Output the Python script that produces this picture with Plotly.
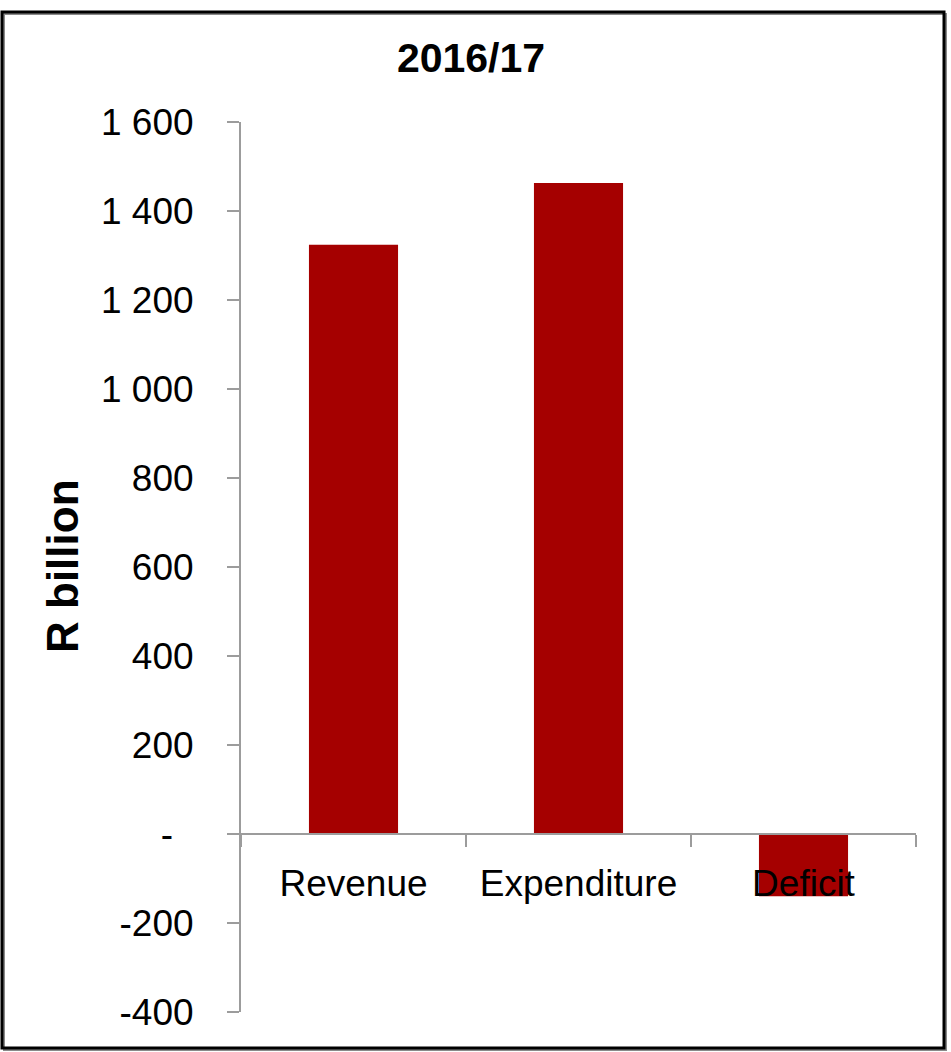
import plotly.graph_objects as go

# Budget aggregates, R billion
categories = ["Revenue", "Expenditure", "Deficit"]
values = [1324, 1463, -140]

tick_vals = [1600, 1400, 1200, 1000, 800, 600, 400, 200, 0, -200, -400]
tick_text = ["1 600", "1 400", "1 200", "1 000", "800", "600", "400", "200",
             "-\u00a0\u00a0", "-200", "-400"]

W, H = 951, 1052
L, R, T, B = 241, 35, 122, 40
PW, PH = W - L - R, H - T - B

def px_x(p):
    return (p - L) / PW

def px_y(p):
    return (H - B - p) / PH

narrow = "Liberation Sans Narrow, Arial Narrow, Liberation Sans, Arial, sans-serif"
bold = "Liberation Sans, Arial, sans-serif"
axis_grey = "#9c9c9c"

fig = go.Figure(
    go.Bar(
        x=categories,
        y=values,
        marker=dict(color="#A50000", line=dict(width=0)),
    )
)

fig.update_layout(
    width=W,
    height=H,
    margin=dict(l=L, r=R, t=T, b=B),
    paper_bgcolor="white",
    plot_bgcolor="white",
    bargap=0.604,
    showlegend=False,
    title=dict(
        text="<b>2016/17</b>",
        x=471 / W,
        xanchor="center",
        y=1 - 58 / H,
        yanchor="middle",
        font=dict(family=bold, size=41, color="black"),
    ),
    xaxis=dict(
        type="category",
        range=[-0.5, 2.5],
        anchor="free",
        position=0.2,
        showline=True,
        linecolor=axis_grey,
        linewidth=2,
        ticks="outside",
        tickson="boundaries",
        ticklen=12,
        tickwidth=2,
        tickcolor=axis_grey,
        showgrid=False,
        zeroline=False,
        tickfont=dict(family=narrow, size=37, color="black"),
        ticklabelstandoff=17,
    ),
    yaxis=dict(
        range=[-400, 1600],
        tickvals=tick_vals,
        ticktext=tick_text,
        showline=True,
        linecolor=axis_grey,
        linewidth=2,
        ticks="outside",
        ticklen=12,
        tickwidth=2,
        tickcolor=axis_grey,
        showgrid=False,
        zeroline=False,
        tickfont=dict(family=narrow, size=37, color="black"),
        ticklabelstandoff=26,
    ),
    annotations=[
        dict(
            text="<b>R billion</b>",
            textangle=-90,
            xref="paper",
            yref="paper",
            x=px_x(62),
            y=px_y(566),
            xanchor="center",
            yanchor="middle",
            showarrow=False,
            font=dict(family=bold, size=44, color="black"),
        )
    ],
    shapes=[
        # frame shadow
        dict(
            type="rect", xref="paper", yref="paper",
            x0=px_x(4), x1=px_x(946), y0=px_y(1050), y1=px_y(14),
            line=dict(color="#8a8a8a", width=2), layer="below",
        ),
        # outer frame
        dict(
            type="rect", xref="paper", yref="paper",
            x0=px_x(2), x1=px_x(944), y0=px_y(1048), y1=px_y(12),
            line=dict(color="black", width=3), layer="below",
        ),
    ],
)

fig.write_html("out.html")
